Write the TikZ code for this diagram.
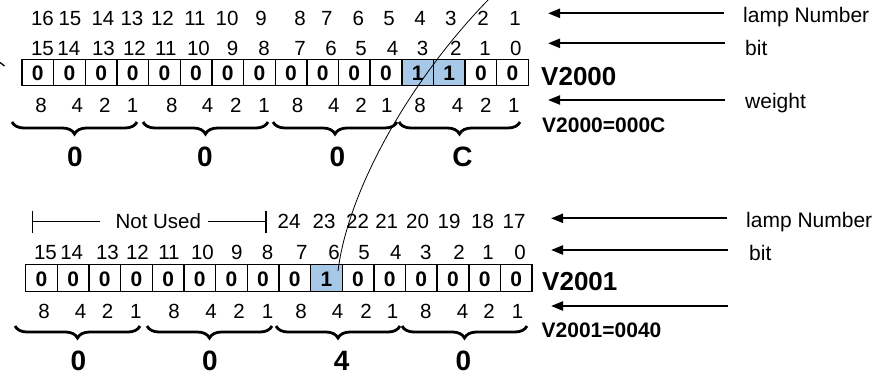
\documentclass[tikz,border=0pt]{standalone}
\usepackage{fontspec}
\setmainfont{Liberation Sans}
\usetikzlibrary{arrows.meta,positioning,decorations.pathreplacing}

\definecolor{set}{RGB}{168,200,232}

\begin{document}
\begin{tikzpicture}[x=1pt, y=-1pt,
    cell/.style={rectangle, draw, line width=1.4pt, minimum width=31.65pt, minimum height=26.5pt, inner sep=0pt, text height=16pt, text depth=0pt, font=\fontsize{21}{21}\selectfont\bfseries},
    num/.style={anchor=base, inner sep=0pt, font=\fontsize{20.5}{21}\selectfont},
    hexdigit/.style={anchor=base, inner sep=0pt, font=\fontsize{28}{28}\selectfont\bfseries},
    reg/.style={anchor=base west, inner sep=0pt, font=\fontsize{26}{26}\selectfont\bfseries},
    regval/.style={anchor=base west, inner sep=0pt, font=\fontsize{21}{21}\selectfont\bfseries},
    lbl/.style={anchor=base west, inner sep=0pt, font=\fontsize{21}{21}\selectfont},
    arrow/.style={-{Triangle[length=12pt, width=9pt]}, line width=2.2pt},
    nibble/.style={decorate, decoration={brace, mirror, amplitude=12pt}, line width=2.8pt}
]
\useasboundingbox (0,0) rectangle (877,375);

% V2000 register
\foreach \v [count=\i from 0] in {0,0,0,0,0,0,0,0,0,0,0,0,1,1,0,0} {
  \ifnum\v=1 \def\c{set}\else\def\c{white}\fi
  \node[cell, fill=\c] (a\i) at (22+31.65*\i+15.825, 72.5) {\v};
}
\foreach \x/\n in {42.5/16, 70/15, 103/14, 132/13, 162.5/12, 195/11, 227/10, 261/9,
                   300/8, 326.7/7, 358.3/6, 389/5, 420/4, 450.8/3, 483/2, 515/1}
  \node[num] (lampA\n) at (\x,25) {\n};
\foreach \x/\n in {42.5/15, 68.8/14, 103.5/13, 134.5/12, 165.8/11, 198.5/10, 232.5/9, 264/8,
                   300/7, 331/6, 361/5, 392.5/4, 422.5/3, 455.8/2, 485/1, 515.8/0}
  \node[num] (bitA\n) at (\x,55) {\n};
\foreach \x/\w [count=\k] in {41/8, 77.2/4, 104.7/2, 132.5/1, 171.7/8, 207.5/4, 235.8/2, 264/1,
                   297.5/8, 333.8/4, 361/2, 386.7/1, 420/8, 457.5/4, 485.8/2, 513.8/1}
  \node[num] (wA\k) at (\x,112) {\w};

\draw[nibble] (12,122) -- (137,122);
\draw[nibble] (143,122) -- (268,122);
\draw[nibble] (273,122) -- (397,122);
\draw[nibble] (399,122) -- (520,122);

\node[hexdigit] (hexA1) at (75,166) {0};
\node[hexdigit] (hexA2) at (205,166) {0};
\node[hexdigit] (hexA3) at (337.5,166) {0};
\node[hexdigit] (hexA4) at (462.5,166) {C};

\node[reg] (regA) at (541,85.5) {V2000};
\node[regval] (valA) at (542,132.3) {V2000=000C};

% V2001 register
\foreach \v [count=\i from 0] in {0,0,0,0,0,0,0,0,0,1,0,0,0,0,0,0} {
  \ifnum\v=1 \def\c{set}\else\def\c{white}\fi
  \node[cell, fill=\c] (b\i) at (25.7+31.65*\i+15.825, 278) {\v};
}
\node[num] (notused) at (158.3,228.3) {Not Used};
\coordinate (nuL) at (32.3,221.7);
\coordinate (nuR) at (266,221.7);
\draw[line width=1.3pt] (nuL) -- ++(68,0);
\draw[line width=1.3pt] (nuR) -- ++(-58,0);
\draw[line width=1.3pt] (nuL) ++(0,-11) -- ++(0,22);
\draw[line width=1.3pt] (nuR) ++(0,-11) -- ++(0,22);
\foreach \x/\n in {289/24, 324/23, 357.5/22, 386.7/21, 417.5/20, 449/19, 482.5/18, 514/17}
  \node[num] (lampB\n) at (\x,228.3) {\n};
\foreach \x/\n in {45.5/15, 71.7/14, 107.5/13, 137.5/12, 169/11, 202.5/10, 236.7/9, 267.5/8,
                   301.7/7, 334/6, 364/5, 395.8/4, 425.8/3, 459/2, 488/1, 520/0}
  \node[num] (bitB\n) at (\x,259) {\n};
\foreach \x/\w [count=\k] in {44.2/8, 80.5/4, 107.5/2, 135.8/1, 174/8, 211/4, 239/2, 267.5/1,
                   301/8, 337.5/4, 366/2, 392.5/1, 425.8/8, 462.5/4, 489/2, 517.5/1}
  \node[num] (wB\k) at (\x,318) {\w};

\draw[nibble] (15,326) -- (140,326);
\draw[nibble] (147,326) -- (272,326);
\draw[nibble] (276,326) -- (400,326);
\draw[nibble] (402,326) -- (527,326);

\node[hexdigit] (hexB1) at (78.3,370) {0};
\node[hexdigit] (hexB2) at (210,370) {0};
\node[hexdigit] (hexB3) at (341.7,370) {4};
\node[hexdigit] (hexB4) at (463.3,370) {0};

\node[reg] (regB) at (542,290) {V2001};
\node[regval] (valB) at (541.5,337) {V2001=0040};

% row labels and arrows
\node[lbl] (lampAtxt) at (743,22.5) {lamp Number};
\node[lbl] (bitAtxt) at (745,55) {bit};
\node[lbl] (weightAtxt) at (745,108) {weight};
\node[lbl] (lampBtxt) at (746,227.5) {lamp Number};
\node[lbl] (bitBtxt) at (749,260) {bit};

\coordinate (lampAtail) at (724,13.3);   \coordinate (lampAtip) at (548,13.3);
\coordinate (bitAtail) at (725,43.3);    \coordinate (bitAtip) at (548,43.3);
\coordinate (weightAtail) at (725,100);  \coordinate (weightAtip) at (548,100);
\coordinate (lampBtail) at (727,218.3);  \coordinate (lampBtip) at (551,218.3);
\coordinate (bitBtail) at (728,250);     \coordinate (bitBtip) at (551,250);
\coordinate (weightBtail) at (728,306);  \coordinate (weightBtip) at (551,306);
\draw[arrow] (lampAtail) -- (lampAtip);
\draw[arrow] (bitAtail) -- (bitAtip);
\draw[arrow] (weightAtail) -- (weightAtip);
\draw[arrow] (lampBtail) -- (lampBtip);
\draw[arrow] (bitBtail) -- (bitBtip);
\draw[arrow] (weightBtail) -- (weightBtip);

% thin curve across both registers
\coordinate (curveTop) at (489,-1);
\coordinate (curveEnd) at (338,271);
\draw[line width=0.8pt] (curveTop) .. controls (410,80) and (348,190) .. (curveEnd);

% cut-off mark at the left edge
\draw[line width=1.3pt] (0,62.5) -- (4.5,66);

\end{tikzpicture}
\end{document}
